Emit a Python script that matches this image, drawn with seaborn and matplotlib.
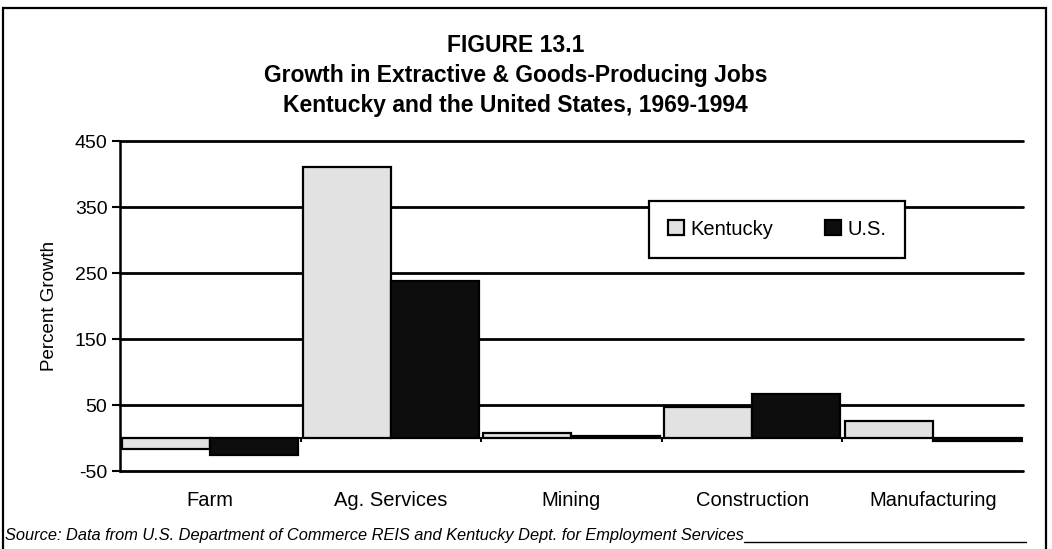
import matplotlib
matplotlib.use("Agg")
import matplotlib.pyplot as plt
import seaborn as sns
import pandas as pd
import numpy as np
from matplotlib.lines import Line2D
from matplotlib.patches import Rectangle

categories = ["Farm", "Ag. Services", "Mining", "Construction", "Manufacturing"]
kentucky = [-16, 411, 8, 48, 27]
us = [-25, 238, 3, 67, -4]
series_names = ["Kentucky", "U.S."]
yticks = [-50, 50, 150, 250, 350, 450]

df = pd.DataFrame({
    "Category": categories * 2,
    "Region": [series_names[0]] * len(categories) + [series_names[1]] * len(categories),
    "Growth": kentucky + us,
})

sns.set_theme(style="white")
plt.rcParams["font.family"] = ["Liberation Sans", "DejaVu Sans"]
for k in ["text.color", "axes.labelcolor", "xtick.color", "ytick.color"]:
    plt.rcParams[k] = "black"

fig = plt.figure(figsize=(10.52, 5.49), dpi=100)
ax = fig.add_axes([0.114, 0.1415, 0.8585, 0.601])

ax.set_axisbelow(True)
ax.yaxis.grid(True, color="black", linewidth=2.0)
ax.xaxis.grid(False)

sns.barplot(data=df, x="Category", y="Growth", hue="Region", order=categories,
            hue_order=series_names,
            palette={"Kentucky": "#e2e2e2", "U.S.": "#0d0d0d"},
            width=0.975, gap=0, edgecolor="black", linewidth=1.6,
            errorbar=None, ax=ax, zorder=3)

ax.set_ylim(-50, 450)
ax.set_xlim(-0.5, len(categories) - 0.5)
ax.set_yticks(yticks)
ax.set_yticklabels([str(t) for t in yticks], fontsize=14)
ax.tick_params(axis="y", which="major", length=6, width=1.5, color="black",
               left=True, pad=3)
ax.tick_params(axis="x", length=0, pad=14, labelsize=14.5)
for gl in ax.get_ygridlines():
    gl.set_clip_on(False)
ax.set_xlabel("")
ax.set_ylabel("Percent Growth", fontsize=13.5, labelpad=12)

for s in ["top", "right", "bottom"]:
    ax.spines[s].set_visible(False)
ax.spines["left"].set_color("black")
ax.spines["left"].set_linewidth(1.8)

# zero (category) axis with boundary tick marks
ax.axhline(0, color="black", linewidth=1.4, zorder=2)
bounds = np.arange(len(categories) + 1) - 0.5
ax.vlines(bounds[1:], -6, 0, color="black", linewidth=1.4, zorder=2)

leg = ax.legend(loc="center", bbox_to_anchor=(0.7276, 0.734), ncol=2,
                fontsize=14.5, frameon=True, fancybox=False, edgecolor="black",
                handlelength=0.8, handleheight=0.8, handletextpad=0.3,
                columnspacing=2.6, borderpad=0.95)
leg.get_frame().set_linewidth(1.6)
leg.get_frame().set_facecolor("white")
leg.get_frame().set_alpha(1)
leg.set_zorder(5)

tx = 0.49
fig.text(tx, 0.918, "FIGURE 13.1", ha="center", va="center",
         fontsize=16.5, fontweight="bold")
fig.text(tx, 0.862, "Growth in Extractive & Goods-Producing Jobs", ha="center",
         va="center", fontsize=16.5, fontweight="bold")
fig.text(tx, 0.808, "Kentucky and the United States, 1969-1994", ha="center",
         va="center", fontsize=16.5, fontweight="bold")

src = fig.text(0.005, 0.016, "Source: Data from U.S. Department of Commerce REIS and Kentucky Dept. for Employment Services",
               ha="left", va="baseline", fontsize=11.8, style="italic")
fig.canvas.draw()
bb = src.get_window_extent().transformed(fig.transFigure.inverted())
fig.add_artist(Line2D([bb.x1, 0.975], [0.012, 0.012], color="black", linewidth=1.0,
                      transform=fig.transFigure))

fig.add_artist(Rectangle((0.003, -0.01), 0.991, 0.995, fill=False, edgecolor="black",
                         linewidth=1.6, transform=fig.transFigure))

fig.savefig("out.png", dpi=100)
